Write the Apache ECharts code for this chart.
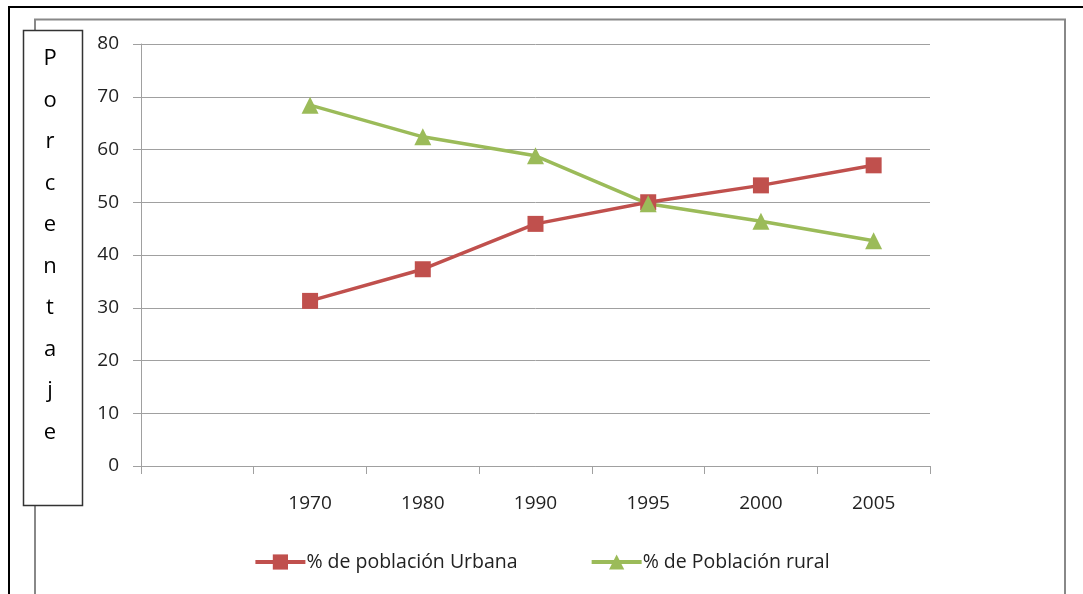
<!DOCTYPE html>
<html><head><meta charset="utf-8">
<script src="https://cdn.jsdelivr.net/npm/echarts@6/dist/echarts.min.js"></script>
<style>html,body{margin:0;padding:0;background:#fff}#c{width:1083px;height:594px}</style>
</head><body><div id="c"></div>
<script>
const categories = ['', '1970', '1980', '1990', '1995', '2000', '2005'];
const urbana = ['-', 31.3, 37.3, 45.9, 50.0, 53.2, 57.0];
const rural = ['-', 68.4, 62.4, 58.8, 49.7, 46.4, 42.7];
const seriesNames = ['% de población Urbana', '% de Población rural'];
const yTitle = 'Porcentaje';

const font = '"Open Sans", "Noto Sans", sans-serif';
const chart = echarts.init(document.getElementById('c'), null, {renderer: 'canvas'});
chart.setOption({
  animation: false,
  backgroundColor: '#fff',
  textStyle: {fontFamily: font},
  grid: {left: 141, right: 153, top: 44, bottom: 128, containLabel: false},
  legend: {
    bottom: 17, left: 'center', itemGap: 72, itemWidth: 50, itemHeight: 19,
    lineStyle: {width: 4},
    textStyle: {fontSize: 19.5, color: '#222', fontFamily: font, padding: [0, 0, 0, -4]},
    data: [seriesNames[0], seriesNames[1]]
  },
  xAxis: {
    type: 'category', data: categories, boundaryGap: true,
    axisLine: {lineStyle: {color: '#a0a0a0', width: 1}},
    axisTick: {show: true, length: 8, interval: 0, lineStyle: {color: '#a0a0a0'}},
    axisLabel: {margin: 28, fontSize: 19, color: '#222', interval: 0},
    splitLine: {show: false}
  },
  yAxis: {
    type: 'value', min: 0, max: 80, interval: 10,
    axisLine: {show: true, lineStyle: {color: '#a0a0a0', width: 1}},
    axisTick: {show: true, length: 8, lineStyle: {color: '#a0a0a0'}},
    axisLabel: {margin: 22, fontSize: 19, color: '#222'},
    splitLine: {show: true, lineStyle: {color: '#a0a0a0', width: 1}}
  },
  series: [
    {name: seriesNames[0], type: 'line', data: urbana, symbol: 'rect', symbolSize: 16,
     itemStyle: {color: '#C0504D'}, lineStyle: {color: '#C0504D', width: 3.5}},
    {name: seriesNames[1], type: 'line', data: rural, symbol: 'triangle', symbolSize: 17,
     itemStyle: {color: '#9BBB59'}, lineStyle: {color: '#9BBB59', width: 3.5}}
  ],
  graphic: [
    {type: 'rect', shape: {x: 9, y: 7, width: 1100, height: 620}, style: {fill: 'none', stroke: '#000', lineWidth: 2}, silent: true},
    {type: 'rect', shape: {x: 35, y: 19.5, width: 1030, height: 620}, style: {fill: 'none', stroke: '#888', lineWidth: 2}, silent: true},
    {type: 'rect', shape: {x: 23.5, y: 30.5, width: 59, height: 475}, style: {fill: '#fff', stroke: '#333', lineWidth: 1.5}, silent: true},
    {type: 'text', x: 50, y: 38, style: {text: yTitle.split('').join('\n'), font: '22px ' + font, fill: '#000', align: 'center', verticalAlign: 'top', lineHeight: 41.5}, silent: true}
  ]
});
</script></body></html>
